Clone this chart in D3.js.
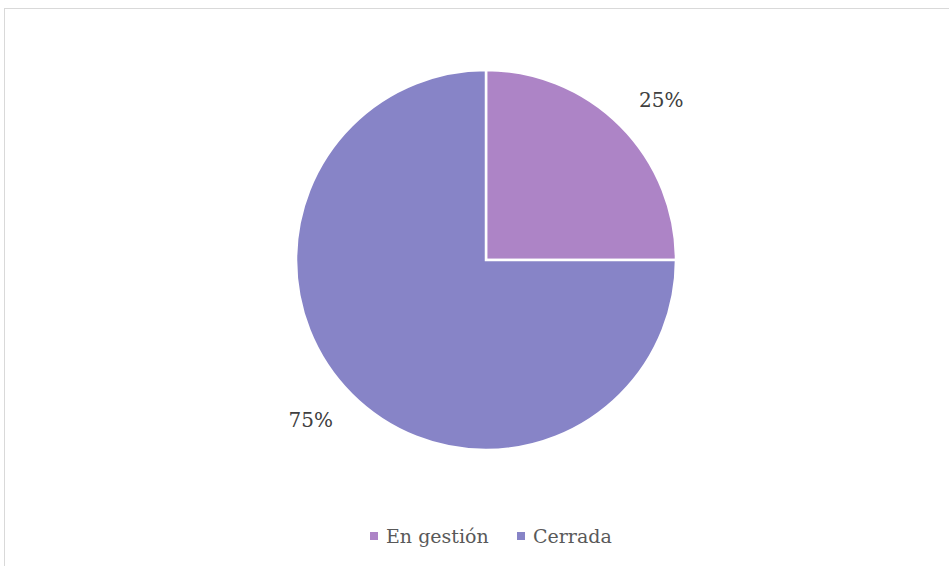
<!DOCTYPE html>
<html lang="es">
<head>
<meta charset="UTF-8">
<title>Pie</title>
<script src="https://d3js.org/d3.v7.min.js"></script>
<style>
    body { margin: 0; background: #fff; font-family: "DejaVu Serif", "Liberation Serif", serif; }
</style>
</head>
<body>
<div id="chart"></div>
<script>
    const categories = ["En gestión", "Cerrada"];
    const values = [25, 75];
    const colors = ["#AD84C6", "#8784C7"];

    const width = 949, height = 566;
    const cx = 486, cy = 260, radius = 190;

    const svg = d3.select("#chart").append("svg")
        .attr("width", width)
        .attr("height", height);

    // chart area border
    svg.append("rect")
        .attr("x", 4.5).attr("y", 8.5)
        .attr("width", width + 10).attr("height", height + 10)
        .attr("fill", "#fff")
        .attr("stroke", "#d9d9d9");

    const color = d3.scaleOrdinal().domain(categories).range(colors);
    const data = categories.map((c, i) => ({name: c, value: values[i]}));
    const pie = d3.pie().sort(null).value(d => d.value);
    const arc = d3.arc().innerRadius(0).outerRadius(radius);
    const arcs = pie(data);

    const g = svg.append("g").attr("transform", `translate(${cx},${cy})`);
    g.selectAll("path")
        .data(arcs)
        .enter().append("path")
        .attr("d", arc)
        .attr("fill", d => color(d.data.name))
        .attr("stroke", "#fff")
        .attr("stroke-width", 2.5);

    // data labels outside the pie
    const labelArc = d3.arc().innerRadius(radius + 46).outerRadius(radius + 46);
    const total = d3.sum(values);
    g.selectAll("text.lbl")
        .data(arcs)
        .enter().append("text")
        .attr("class", "lbl")
        .attr("transform", d => {
            const c = labelArc.centroid(d);
            return `translate(${c[0] * 1.05},${c[1] * 0.96})`;
        })
        .attr("text-anchor", "middle")
        .attr("dy", "0.35em")
        .attr("fill", "#404040")
        .style("font-size", "20px")
        .text(d => Math.round(d.data.value / total * 100) + "%");

    // legend
    const legend = svg.append("g").attr("transform", "translate(0,536)");
    const legendX = [370, 517];
    const item = legend.selectAll("g")
        .data(categories)
        .enter().append("g")
        .attr("transform", (d, i) => `translate(${legendX[i]},0)`);
    item.append("rect")
        .attr("x", 0).attr("y", -4)
        .attr("width", 8).attr("height", 8)
        .attr("fill", d => color(d));
    item.append("text")
        .attr("x", 16).attr("dy", "0.35em")
        .attr("fill", "#595959")
        .style("font-size", "19px")
        .text(d => d);
</script>
</body>
</html>
